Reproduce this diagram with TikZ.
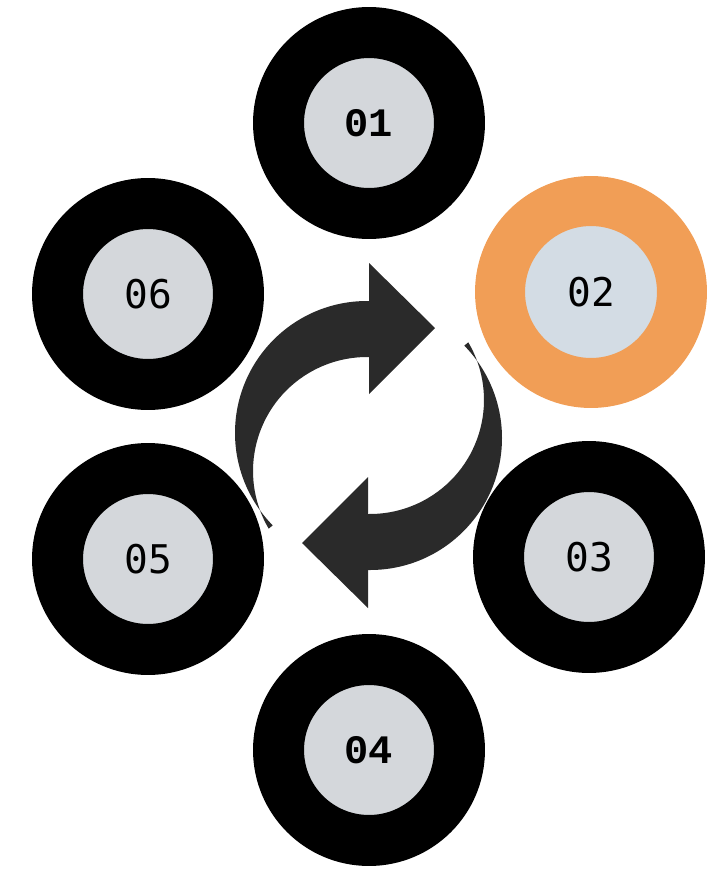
\documentclass[tikz,border=0pt]{standalone}
\usepackage{fontspec}
\newfontfamily\courfont{Liberation Mono}
\newfontfamily\monofont{DejaVu Sans Mono}
\definecolor{ringgray}{HTML}{D4D7DB}
\definecolor{ringblue}{HTML}{D3DCE4}
\definecolor{hotorange}{HTML}{F19E56}
\definecolor{turngray}{HTML}{2A2A2A}
\tikzset{
  ring/.style={circle, draw=black, line width=1.02cm, fill=ringgray,
    minimum size=3.62cm, inner sep=0pt,
    font=\monofont\fontsize{22.5}{27}\selectfont},
  hotring/.style={ring, draw=hotorange, fill=ringblue, minimum size=3.64cm,
    line width=1.0cm},
  courlabel/.style={font=\courfont\bfseries\fontsize{23}{28}\selectfont},
  turn/.style={fill=turngray}
}
\begin{document}
\begin{tikzpicture}[x=0.02cm, y=-0.02cm]
  \useasboundingbox (0,0) rectangle (712,869);
  % steps round the cycle
  \node[ring, courlabel] (c01) at (369,123) {01};
  \node[hotring] (c02) at (591,292) {02};
  \node[ring] (c03) at (589,557) {03};
  \node[ring, courlabel] (c04) at (369,750) {04};
  \node[ring] (c05) at (148,559) {05};
  \node[ring] (c06) at (148,294) {06};
  % the two turning arrows
  \coordinate (mid) at (368.5,435.5);
  \foreach \ang in {0,180} {
    \begin{scope}[rotate around={\ang:(mid)}]
    \fill[turn] (367,301) arc[start angle=270, end angle=135.6, radius=132]
      -- (268.7,528.7) arc[start angle=149.6, end angle=270, radius=114]
      -- (369,357) -- (369,301) -- cycle;
    \fill[turn] (369,263) -- (435,328) -- (369,394) -- cycle;
    \end{scope}
  }
\end{tikzpicture}
\end{document}
